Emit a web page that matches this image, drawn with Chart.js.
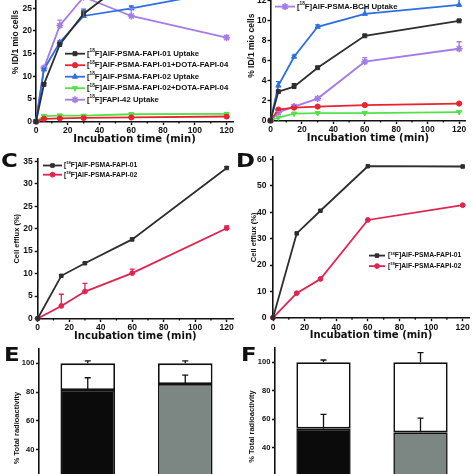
<!DOCTYPE html>
<html><head><meta charset="utf-8">
<script src="https://cdn.jsdelivr.net/npm/chart.js@4.4.1/dist/chart.umd.min.js"></script>
<style>
html,body{margin:0;padding:0;background:#fff;overflow:hidden}
#fig{position:relative;width:474px;height:474px;overflow:hidden;background:#fff}
#fig canvas{position:absolute}
.lt{position:absolute;font-family:'DejaVu Sans',sans-serif;font-weight:bold;font-size:19px;line-height:19px;color:#111;transform:scaleX(1.2);transform-origin:left top}
</style></head><body>
<div id="fig">
<canvas id="cA"></canvas><canvas id="cB"></canvas>
<canvas id="cC"></canvas><canvas id="cD"></canvas>
<canvas id="cE"></canvas><canvas id="cF"></canvas>
<div class="lt" style="left:1px;top:151px">C</div>
<div class="lt" style="left:236px;top:151px">D</div>
<div class="lt" style="left:4px;top:345px">E</div>
<div class="lt" style="left:241px;top:345px">F</div>
</div>
<script>
// ---------------- data ----------------
const timesAB = [0, 5, 15, 30, 60, 120];
const timesCD = [0, 15, 30, 60, 120];
const xTickValues = [0, 20, 40, 60, 80, 100, 120];
const xMinorTicks = [10, 30, 50, 70, 90, 110];

// Panel A
const A_labels = ['[¹⁸F]AlF-PSMA-FAPI-01 Uptake', '[¹⁸F]AlF-PSMA-FAPI-01+DOTA-FAPI-04',
  '[¹⁸F]AlF-PSMA-FAPI-02 Uptake', '[¹⁸F]AlF-PSMA-FAPI-02+DOTA-FAPI-04', '[¹⁸F]FAPI-42 Uptake'];
const A_fapi01 = [0, 8.2, 17.0, 23.8, 31.8, 33.5];
const A_fapi01Err = [0, 0.3, 0.5, 0.6, 0.8, 0.8];
const A_fapi01Block = [0, 0.6, 0.7, 0.8, 0.9, 1.1];
const A_fapi01BlockErr = [0, 0.1, 0.1, 0.1, 0.1, 0.1];
const A_fapi02 = [0, 11.5, 17.5, 23.3, 25.0, 28.9];
const A_fapi02Err = [0, 0.3, 0.3, 1.5, 0.5, 0.5];
const A_fapi02Block = [0, 1.2, 1.3, 1.3, 1.6, 1.7];
const A_fapi02BlockErr = [0, 0.2, 0.3, 0.2, 0.3, 0.2];
const A_fapi42 = [0, 11.8, 21.2, 27.5, 23.3, 18.5];
const A_fapi42Err = [0, 0.4, 1.2, 0.5, 1.7, 0.5];
const A_yTicks = [0, 5, 10, 15, 20, 25, 30, 35];

// Panel B
const B_labels = ['[¹⁸F]AlF-PSMA-FAPI-01 Uptake', '[¹⁸F]AlF-PSMA-FAPI-01+PSMA-11',
  '[¹⁸F]AlF-PSMA-FAPI-02 Uptake', '[¹⁸F]AlF-PSMA-FAPI-02+PSMA-11', '[¹⁸F]AlF-PSMA-BCH Uptake'];
const B_fapi01 = [0, 2.9, 3.4, 5.3, 8.5, 10.0];
const B_fapi01Err = [0, 0.1, 0.3, 0.1, 0.1, 0.1];
const B_fapi01Block = [0, 1.1, 1.3, 1.4, 1.55, 1.7];
const B_fapi01BlockErr = [0, 0.05, 0.05, 0.05, 0.05, 0.05];
const B_fapi02 = [0, 3.5, 6.4, 9.4, 10.7, 11.6];
const B_fapi02Err = [0, 0.4, 0.15, 0.2, 0.6, 0.6];
const B_fapi02Block = [0, 0.3, 0.7, 0.75, 0.75, 0.85];
const B_fapi02BlockErr = [0, 0.05, 0.05, 0.05, 0.05, 0.05];
const B_bch = [0, 0.8, 1.4, 2.2, 5.9, 7.2];
const B_bchErr = [0, 0.1, 0.2, 0.1, 0.4, 0.7];
const B_yTicks = [0, 2, 4, 6, 8, 10, 12, 14];

// Panel C
const CD_labels = ['[¹⁸F]AlF-PSMA-FAPI-01', '[¹⁸F]AlF-PSMA-FAPI-02'];
const C_fapi01 = [0, 9.5, 12.3, 17.6, 33.5];
const C_fapi01Err = [0, 0.2, 0.2, 0.3, 0.3];
const C_fapi02 = [0, 2.8, 6.0, 10.1, 20.1];
const C_fapi02Err = [0, 2.6, 1.8, 0.9, 0.5];
const C_yTicks = [0, 5, 10, 15, 20, 25, 30, 35];

// Panel D
const D_fapi01 = [0, 32.0, 40.6, 57.5, 57.4];
const D_fapi02 = [0, 9.3, 14.7, 37.1, 42.7];
const D_yTicks = [0, 10, 20, 30, 40, 50, 60];

// Panels E, F
const barCats = ['[¹⁸F]AlF-PSMA-FAPI-01', '[¹⁸F]AlF-PSMA-FAPI-02'];
const E_intact = [81.4, 85.6];
const E_intactErr = [8.6, 6.2];
const E_total = [100, 100];
const E_totalErr = [1.8, 1.8];
const F_intact = [53.5, 50.9];
const F_intactErr = [10.0, 10.0];
const F_total = [100, 100];
const F_totalErr = [1.6, 6.7];
const EF_yTicks = [0, 20, 40, 60, 80, 100];

// ---------------- styles ----------------
const FT = "'Liberation Sans', Arial, sans-serif";
const FW = "'DejaVu Sans', sans-serif";
const INK = '#111';
const C_BLACK = '#2e2e2e', C_RED = '#e8232f', C_BLUE = '#2d6fe3', C_GREEN = '#55e04a', C_PURPLE = '#a47ce8', C_CRIMSON = '#e2234f';
const BAR_BLACK = '#0b0b0b', BAR_GREY = '#7c8783';

// ---------------- plugins ----------------
const SUP = '⁰¹²³⁴⁵⁶⁷⁸⁹';
function drawRich(ctx, text, x, y, size, family) {
  let cx = x, buf = '', sup = false;
  const flush = () => {
    if (!buf) return;
    ctx.font = 'bold ' + (sup ? size * 0.6 : size) + 'px ' + family;
    ctx.fillText(buf, cx, sup ? y - size * 0.32 : y);
    cx += ctx.measureText(buf).width;
    buf = '';
  };
  for (const ch of text) {
    const k = SUP.indexOf(ch);
    const isSup = k >= 0;
    if (isSup !== sup) { flush(); sup = isSup; }
    buf += isSup ? String(k) : ch;
  }
  flush();
}

const legendPlugin = {
  id: 'boxLegend',
  afterDraw(chart, args, o) {
    if (!o || o.x0 === undefined) return;
    const ctx = chart.ctx;
    ctx.save();
    chart.data.datasets.forEach((ds, i) => {
      const y = o.y + i * o.step;
      ctx.strokeStyle = ds.borderColor; ctx.lineWidth = ds.borderWidth;
      ctx.beginPath(); ctx.moveTo(o.x0, y); ctx.lineTo(o.x1, y); ctx.stroke();
      ctx.fillStyle = ds.pointBackgroundColor; ctx.strokeStyle = ds.pointBorderColor;
      ctx.lineWidth = ds.pointBorderWidth;
      Chart.helpers.drawPoint(ctx, {pointStyle: ds.pointStyle, radius: ds.pointRadius,
        rotation: ds.pointRotation || 0, borderWidth: ds.pointBorderWidth}, (o.x0 + o.x1) / 2, y);
      ctx.fillStyle = INK; ctx.textBaseline = 'middle'; ctx.textAlign = 'left';
      drawRich(ctx, ds.label, o.xt, y, o.size, FT);
    });
    ctx.restore();
  }
};

const errPlugin = {
  id: 'errBars',
  afterDatasetsDraw(chart) {
    const ctx = chart.ctx;
    chart.data.datasets.forEach((ds, di) => {
      if (!ds.errors) return;
      const meta = chart.getDatasetMeta(di);
      const ys = chart.scales[meta.yAxisID];
      ctx.save();
      ctx.strokeStyle = ds.errColor || ds.borderColor;
      ctx.lineWidth = ds.errWidth || 1.3;
      const cap = ds.errCap || 2.5;
      meta.data.forEach((el, i) => {
        const e = ds.errors[i];
        if (!e) return;
        const raw = ds.data[i];
        const v = Array.isArray(raw) ? raw[1] : (typeof raw === 'object' ? raw.y : raw);
        const x = el.x, y1 = ys.getPixelForValue(v), y2 = ys.getPixelForValue(v + e);
        ctx.beginPath();
        ctx.moveTo(x, y1); ctx.lineTo(x, y2);
        ctx.moveTo(x - cap, y2); ctx.lineTo(x + cap, y2);
        ctx.stroke();
      });
      ctx.restore();
    });
  }
};

const minorPlugin = {
  id: 'minorTicks',
  afterDraw(chart, args, o) {
    if (!o || !o.values) return;
    const xs = chart.scales.x, ctx = chart.ctx;
    ctx.save(); ctx.strokeStyle = INK; ctx.lineWidth = 1.3;
    o.values.forEach(v => {
      const px = xs.getPixelForValue(v);
      ctx.beginPath(); ctx.moveTo(px, xs.top); ctx.lineTo(px, xs.top + 2); ctx.stroke();
    });
    ctx.restore();
  }
};

// ---------------- helpers ----------------
function place(cv, g) {
  const W = Math.round(g.pr + g.padR - g.cl), H = Math.round(g.cb - g.pt + g.padT);
  cv.width = W; cv.height = H;
  cv.style.left = g.cl + 'px'; cv.style.top = (g.pt - g.padT) + 'px';
  cv.style.width = W + 'px'; cv.style.height = H + 'px';
}

function yAxis(g, max, ticks, title, tSize, tPad, tickPad, tickSize) {
  return {
    type: 'linear', min: 0, max: max,
    afterBuildTicks: s => { s.ticks = ticks.map(v => ({value: v})); },
    afterFit: s => { s.width = g.pl - g.cl; s.paddingTop = 0; s.paddingBottom = 0; },
    grid: {display: true, drawOnChartArea: false, drawTicks: true, tickLength: 3, tickWidth: 1.4, tickColor: INK},
    border: {display: true, color: INK, width: 1.6},
    ticks: {font: {family: FT, size: tickSize, weight: 'bold'}, color: INK, padding: tickPad, autoSkip: false},
    title: {display: true, text: title, color: INK, font: {family: FT, size: tSize, weight: 'bold'}, padding: {top: tPad, bottom: 0}}
  };
}

function makeLine(id, g, times, series, yMax, yTicks, yTitle, ySize, yPad, yTickPad, leg) {
  const cv = document.getElementById(id);
  place(cv, g);
  const ox = g.cl, oy = g.pt - g.padT;
  const datasets = series.map(s => ({
    label: s.label,
    data: times.map((t, i) => ({x: t, y: s.values[i]})),
    errors: s.errors,
    borderColor: s.color, backgroundColor: s.color,
    pointBackgroundColor: s.color, pointBorderColor: s.color,
    pointStyle: s.marker, pointRotation: s.rot || 0, pointRadius: s.r,
    pointBorderWidth: s.pbw || 1, borderWidth: 1.8, tension: 0, clip: false
  }));
  new Chart(cv, {
    type: 'line',
    data: {datasets},
    options: {
      responsive: false, animation: false, devicePixelRatio: 1, events: [],
      layout: {padding: {top: g.padT, right: g.padR, left: 0, bottom: 0}},
      plugins: {
        legend: {display: false}, tooltip: {enabled: false},
        boxLegend: {x0: leg.x0 - ox, x1: leg.x1 - ox, xt: leg.xt - ox, y: leg.y - oy, step: leg.step, size: leg.size},
        minorTicks: {values: xMinorTicks}
      },
      scales: {
        x: {
          type: 'linear', min: 0, max: 124,
          afterBuildTicks: s => { s.ticks = xTickValues.map(v => ({value: v})); },
          afterFit: s => { s.height = g.cb - g.pb; s.paddingLeft = 0; s.paddingRight = 0; },
          grid: {display: true, drawOnChartArea: false, drawTicks: true, tickLength: 3.5, tickWidth: 1.4, tickColor: INK},
          border: {display: true, color: INK, width: 1.6},
          ticks: {font: {family: FT, size: 8.5, weight: 'bold'}, color: INK, padding: 1, maxRotation: 0, autoSkip: false},
          title: {display: true, text: 'Incubation time (min)', color: INK, font: {family: FW, size: 10, weight: 'bold'}, padding: {top: 0, bottom: 0}}
        },
        y: yAxis(g, yMax, yTicks, yTitle, ySize, yPad, yTickPad, 8.5)
      }
    },
    plugins: [errPlugin, legendPlugin, minorPlugin]
  });
}

function makeBar(id, g, intact, intactErr, total, totalErr, yPad) {
  const cv = document.getElementById(id);
  place(cv, g);
  new Chart(cv, {
    type: 'bar',
    data: {
      labels: barCats,
      datasets: [
        {label: 'Intact', data: intact, errors: intactErr, errColor: INK, errCap: 3,
          backgroundColor: [BAR_BLACK, BAR_GREY], borderColor: INK, borderWidth: 1.6, borderSkipped: false,
          barPercentage: 0.56, categoryPercentage: 1},
        {label: 'Total', data: intact.map((v, i) => [v, total[i]]), errors: totalErr, errColor: INK, errCap: 3,
          backgroundColor: '#ffffff', borderColor: INK, borderWidth: 1.8, borderSkipped: false,
          barPercentage: 0.56, categoryPercentage: 1}
      ]
    },
    options: {
      responsive: false, animation: false, devicePixelRatio: 1, events: [],
      layout: {padding: {top: g.padT, right: g.padR, left: 0, bottom: 0}},
      plugins: {legend: {display: false}, tooltip: {enabled: false}},
      scales: {
        x: {
          stacked: true,
          afterFit: s => { s.height = g.cb - g.pb; s.paddingLeft = 0; s.paddingRight = 0; },
          grid: {display: false},
          border: {display: true, color: INK, width: 1.6},
          ticks: {font: {family: FT, size: 8, weight: 'bold'}, color: INK}
        },
        y: yAxis(g, 110, EF_yTicks, '% Total radioactivity', 7.5, yPad, 1.7, 7.5)
      }
    },
    plugins: [errPlugin]
  });
}

// ---------------- panels ----------------
const gA = {cl: 0, pl: 36, pr: 233.4, pt: -37.2, pb: 121, cb: 144.5, padT: 8, padR: 10};
makeLine('cA', gA, timesAB, [
  {label: A_labels[0], values: A_fapi01, errors: A_fapi01Err, color: C_BLACK, marker: 'rect', r: 2.8},
  {label: A_labels[1], values: A_fapi01Block, errors: A_fapi01BlockErr, color: C_RED, marker: 'circle', r: 2.6},
  {label: A_labels[2], values: A_fapi02, errors: A_fapi02Err, color: C_BLUE, marker: 'triangle', r: 3},
  {label: A_labels[3], values: A_fapi02Block, errors: A_fapi02BlockErr, color: C_GREEN, marker: 'triangle', rot: 180, r: 3},
  {label: A_labels[4], values: A_fapi42, errors: A_fapi42Err, color: C_PURPLE, marker: 'star', r: 3.5, pbw: 1.6}
], 35, A_yTicks, '% ID/1 mio cells', 8.5, 10.6, 1,
  {x0: 65, x1: 85, xt: 87, y: 53.5, step: 11.5, size: 7.8});

const gB = {cl: 237, pl: 270.5, pr: 467.4, pt: -28.6, pb: 121, cb: 144.5, padT: 8, padR: 4};
makeLine('cB', gB, timesAB, [
  {label: B_labels[0], values: B_fapi01, errors: B_fapi01Err, color: C_BLACK, marker: 'rect', r: 2.8},
  {label: B_labels[1], values: B_fapi01Block, errors: B_fapi01BlockErr, color: C_RED, marker: 'circle', r: 2.6},
  {label: B_labels[2], values: B_fapi02, errors: B_fapi02Err, color: C_BLUE, marker: 'triangle', r: 3},
  {label: B_labels[3], values: B_fapi02Block, errors: B_fapi02BlockErr, color: C_GREEN, marker: 'triangle', rot: 180, r: 3},
  {label: B_labels[4], values: B_bch, errors: B_bchErr, color: C_PURPLE, marker: 'star', r: 3.5, pbw: 1.6}
], 15, B_yTicks, '% ID/1 mio cells', 8.5, 9.9, 1,
  {x0: 275, x1: 295, xt: 297, y: -41, step: 12, size: 7.8});

const gC = {cl: 0, pl: 37.7, pr: 233, pt: 158.5, pb: 317.5, cb: 341, padT: 8, padR: 10};
makeLine('cC', gC, timesCD, [
  {label: CD_labels[0], values: C_fapi01, errors: C_fapi01Err, color: C_BLACK, marker: 'rect', r: 2.5},
  {label: CD_labels[1], values: C_fapi02, errors: C_fapi02Err, color: C_CRIMSON, marker: 'circle', r: 2.4}
], 35.5, C_yTicks, 'Cell efflux (%)', 7.5, 12.2, 2,
  {x0: 43, x1: 62, xt: 64, y: 165, step: 9.2, size: 6.8});

const gD = {cl: 237, pl: 273, pr: 470, pt: 157.4, pb: 317.7, cb: 341, padT: 8, padR: 4};
makeLine('cD', gD, timesCD, [
  {label: CD_labels[0], values: D_fapi01, errors: null, color: C_BLACK, marker: 'rect', r: 2.5},
  {label: CD_labels[1], values: D_fapi02, errors: null, color: C_CRIMSON, marker: 'circle', r: 2.4}
], 61, D_yTicks, 'Cell efflux (%)', 7.5, 12.2, 3.5,
  {x0: 369, x1: 385, xt: 388, y: 256, step: 10.5, size: 6.8});

const gE = {cl: 0, pl: 39, pr: 234, pt: 349, pb: 506.8, cb: 526.8, padT: 8, padR: 10};
makeBar('cE', gE, E_intact, E_intactErr, E_total, E_totalErr, 12.5);

const gF = {cl: 237, pl: 275, pr: 469, pt: 348, pb: 504.8, cb: 524.8, padT: 8, padR: 4};
makeBar('cF', gF, F_intact, F_intactErr, F_total, F_totalErr, 10.8);
</script>
</body></html>
